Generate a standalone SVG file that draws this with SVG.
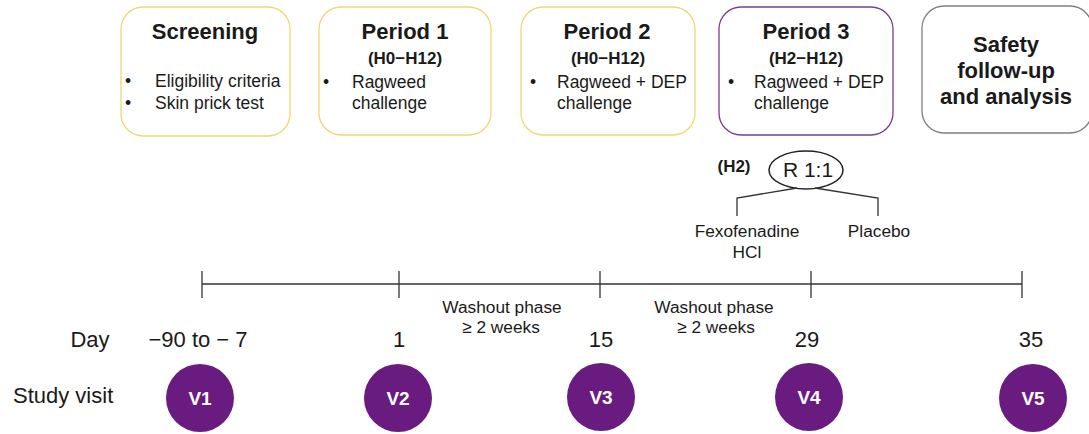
<svg xmlns="http://www.w3.org/2000/svg" width="1089" height="434" viewBox="0 0 1089 434">
<style>
text{font-family:"Liberation Sans",Arial,sans-serif;fill:#1a1a1a}
.box{fill:#fff;stroke-width:1.3}
.y{stroke:#efd774}
.p{stroke:#7b3d8e}
.g{stroke:#7f7f7f}
.t{font-size:22px;font-weight:bold;text-anchor:middle}
.h{font-size:17px;font-weight:bold;text-anchor:middle}
.b{font-size:17.5px}
.m{font-size:17.3px;text-anchor:middle}
.d{font-size:22px;text-anchor:middle}
.ln{stroke:#333;stroke-width:1.3;fill:none}
.v{fill:#6a1b80}
.vt{fill:#fff;font-size:19px;font-weight:bold;text-anchor:middle}
</style>
<g id="screening">
<rect class="box y" x="121" y="7" width="169" height="129" rx="22"/>
<text class="t" x="205" y="39">Screening</text>
<text class="b" x="125" y="87">•</text><text class="b" x="155" y="87">Eligibility criteria</text>
<text class="b" x="125" y="109">•</text><text class="b" x="155" y="109">Skin prick test</text>
</g>
<g id="period1">
<rect class="box y" x="319" y="7" width="172" height="128" rx="22"/>
<text class="t" x="405" y="39">Period 1</text>
<text class="h" x="405" y="64">(H0−H12)</text>
<text class="b" x="323" y="88">•</text><text class="b" x="352" y="88">Ragweed</text>
<text class="b" x="352" y="109">challenge</text>
</g>
<g id="period2">
<rect class="box y" x="521" y="7" width="174" height="128" rx="22"/>
<text class="t" x="607" y="39">Period 2</text>
<text class="h" x="608" y="64">(H0−H12)</text>
<text class="b" x="530" y="88">•</text><text class="b" x="557" y="88">Ragweed + DEP</text>
<text class="b" x="557" y="109">challenge</text>
</g>
<g id="period3">
<rect class="box p" x="719" y="7" width="174" height="128" rx="22"/>
<text class="t" x="806" y="39">Period 3</text>
<text class="h" x="806" y="64">(H2−H12)</text>
<text class="b" x="728" y="88">•</text><text class="b" x="754" y="88">Ragweed + DEP</text>
<text class="b" x="754" y="109">challenge</text>
</g>
<g id="safety">
<rect class="box g" x="922" y="6" width="170" height="127" rx="22"/>
<text class="t" x="1006" y="52">Safety</text>
<text class="t" x="1006" y="78">follow-up</text>
<text class="t" x="1006" y="104">and analysis</text>
</g>
<g id="randomization">
<text class="h" x="734" y="172">(H2)</text>
<ellipse cx="806" cy="170" rx="37" ry="19" fill="#fff" stroke="#222" stroke-width="1.5"/>
<text x="808" y="177" font-size="21" text-anchor="middle">R 1:1</text>
</g>
<g id="fexofenadine">
<text class="m" x="747" y="237">Fexofenadine</text>
<text class="m" x="747" y="258">HCl</text>
</g>
<g id="placebo">
<text class="m" x="879" y="237">Placebo</text>
</g>
<g id="connectors">
<polyline class="ln" points="797,188 737,198 737,216"/>
<polyline class="ln" points="815,188 878,198 878,216"/>
<line class="ln" x1="202" y1="284" x2="1022" y2="284"/>
<line class="ln" x1="202" y1="271" x2="202" y2="298"/>
<line class="ln" x1="399" y1="271" x2="399" y2="298"/>
<line class="ln" x1="600" y1="271" x2="600" y2="298"/>
<line class="ln" x1="811" y1="271" x2="811" y2="298"/>
<line class="ln" x1="1022" y1="271" x2="1022" y2="298"/>
</g>
<g id="washout1">
<text class="m" x="502" y="313">Washout phase</text>
<text class="m" x="501" y="333">≥ 2 weeks</text>
</g>
<g id="washout2">
<text class="m" x="714" y="313">Washout phase</text>
<text class="m" x="716" y="333">≥ 2 weeks</text>
</g>
<g id="days">
<text class="d" x="90" y="347">Day</text>
<text class="d" x="198" y="347">−90 to − 7</text>
<text class="d" x="399" y="347">1</text>
<text class="d" x="601" y="347">15</text>
<text class="d" x="807" y="347">29</text>
<text class="d" x="1031" y="347">35</text>
</g>
<g id="visits">
<text x="13" y="403" font-size="22">Study visit</text>
<g id="v1"><circle class="v" cx="200" cy="398" r="34"/><text class="vt" x="200" y="405">V1</text></g>
<g id="v2"><circle class="v" cx="398" cy="398" r="34"/><text class="vt" x="398" y="405">V2</text></g>
<g id="v3"><circle class="v" cx="601" cy="397" r="34"/><text class="vt" x="601" y="404">V3</text></g>
<g id="v4"><circle class="v" cx="809" cy="397" r="34"/><text class="vt" x="809" y="404">V4</text></g>
<g id="v5"><circle class="v" cx="1033" cy="398" r="34"/><text class="vt" x="1033" y="405">V5</text></g>
</g>
</svg>
